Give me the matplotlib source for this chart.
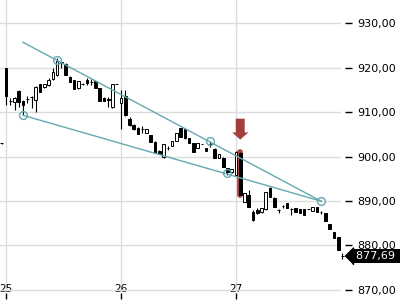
import matplotlib.pyplot as plt
import matplotlib.transforms as mtransforms
from matplotlib.ticker import FuncFormatter

# hourly bars, index 0 = first bar of day 25 (27 bars per day)
opens = [903.0,
         919.89, 912.5, 912.3, 914.72, 912.47, 912.9, 913.3, 912.7, 916.2, 915.6,
         916.05, 917.4, 918.3, 921.2, 920.7, 917.9, 917.2, 915.3, 916.3, 917.1,
         916.85, 917.0, 915.3, 913.2, 913.0, 911.05, 916.25, 912.1, 913.6, 908.4,
         907.1, 906.5, 906.1, 905.35, 904.8, 903.3, 901.3, 899.8, 902.0, 902.35,
         903.5, 906.3, 906.1, 904.15, 903.0, 901.9, 902.8, 901.9, 902.8, 901.7,
         899.7, 899.66, 897.4, 896.5, 895.85, 900.8, 889.8, 891.35, 887.6, 888.0,
         887.5, 888.2, 893.0, 890.7, 888.0, 888.85, 889.5, 888.2, 888.4, 888.2,
         888.2, 888.2, 887.75, 888.65, 887.55, 887.3, 884.8, 883.0, 881.9, 877.7]
highs = [903.1,
         919.89, 913.15, 913.4, 914.9, 912.6, 913.5, 913.7, 915.9, 916.3, 916.3,
         917.7, 919.8, 922.1, 921.4, 920.9, 918.0, 917.3, 917.0, 916.5, 917.6,
         917.35, 917.1, 915.4, 913.3, 913.4, 916.4, 916.3, 914.9, 914.9, 908.8,
         907.3, 906.6, 906.85, 906.2, 904.9, 903.4, 901.35, 902.9, 902.25, 903.5,
         905.3, 906.4, 906.2, 904.2, 903.1, 903.1, 902.9, 902.0, 903.5, 901.8,
         900.6, 899.8, 897.5, 897.2, 901.2, 900.9, 891.8, 892.5, 888.0, 888.4,
         888.5, 892.1, 893.2, 890.8, 888.1, 889.1, 889.6, 888.45, 888.5, 888.3,
         888.3, 888.3, 888.7, 888.7, 887.8, 887.4, 884.9, 883.1, 882.0, 878.3]
lows = [902.9,
        911.57, 911.57, 910.45, 911.2, 909.4, 912.0, 910.8, 909.9, 914.4, 915.5,
        915.9, 917.2, 918.2, 920.0, 918.3, 916.8, 915.1, 915.2, 916.1, 916.1,
        916.1, 915.3, 912.5, 912.4, 911.2, 911.0, 916.2, 906.1, 909.2, 906.9,
        905.9, 905.0, 905.35, 905.3, 903.2, 900.8, 900.5, 899.7, 901.5, 902.3,
        903.4, 904.3, 904.0, 903.0, 901.0, 901.8, 902.7, 901.2, 902.1, 899.6,
        899.6, 897.6, 895.9, 896.4, 895.6, 891.3, 889.7, 888.6, 885.5, 887.0,
        887.4, 888.0, 890.9, 888.6, 887.3, 888.4, 888.4, 886.85, 887.5, 887.3,
        886.8, 888.1, 887.7, 887.5, 887.1, 885.5, 883.7, 881.7, 879.0, 877.0]
closes = [903.0,
          913.6, 912.4, 913.1, 912.2, 911.6, 912.95, 913.4, 915.55, 914.45, 916.2,
          917.2, 919.05, 921.5, 921.1, 918.3, 916.8, 915.1, 916.97, 916.25, 916.45,
          916.75, 915.35, 912.55, 912.5, 912.7, 916.3, 916.25, 913.1, 909.3, 907.1,
          906.1, 905.1, 906.2, 906.1, 903.2, 900.85, 900.55, 902.8, 902.0, 903.45,
          905.35, 904.3, 904.1, 903.05, 901.0, 903.0, 902.8, 901.25, 902.85, 899.65,
          900.55, 897.65, 896.5, 897.2, 901.0, 891.35, 891.8, 888.65, 885.7, 887.3,
          888.4, 892.0, 891.0, 888.65, 887.95, 888.9, 888.45, 888.15, 887.55, 887.3,
          886.9, 888.2, 888.65, 887.55, 887.5, 885.5, 883.7, 881.7, 879.0, 877.69]
first_bar = -1

day_labels = ['25', '26', '27']
day_start_bars = [0, 27, 54]

# wedge drawn on the chart: (bar, price)
upper_line = [(4, 925.66), (74, 889.96)]
lower_line = [(4, 909.26), (74, 889.96)]
pivot_bars = [4, 12, 48, 52, 74]
pivot_prices = [909.26, 921.6, 903.4, 896.2, 889.96]

signal_bar = 55
last_price = 877.69

teal = '#64a9b0'
signal_red = '#a13f3b'

fig = plt.figure(figsize=(4, 3), dpi=100)
ax = fig.add_axes([0, 8 / 300, 341 / 400, 292 / 300])

bars = list(range(first_bar, first_bar + len(closes)))

# candles
for b, o, h, l, c in zip(bars, opens, highs, lows, closes):
    ax.vlines(b, l, h, color='black', lw=0.8, zorder=3, clip_on=False)
    body_color = 'white' if c > o else 'black'
    ax.bar(b, c - o, bottom=o, width=0.62, color=body_color, edgecolor='black',
           linewidth=0.7, zorder=4, clip_on=False)

# signal highlight and arrow
sig = signal_bar - first_bar
ax.plot([signal_bar, signal_bar], [lows[sig], highs[sig]], color=signal_red,
        lw=4.2, solid_capstyle='round', zorder=2, alpha=0.95)
ax.arrow(signal_bar, highs[sig] + 7.6, 0, -4.7, width=2.1, head_width=3.8,
         head_length=1.6, length_includes_head=True, fc=signal_red, ec='none', zorder=5)

# wedge lines
ax.plot(*zip(*upper_line), color=teal, lw=1, zorder=5)
ax.plot(*zip(*lower_line), color=teal, lw=1, zorder=5)
ax.plot(pivot_bars, pivot_prices, 'o', mfc='none', mec=teal, ms=5.6, mew=1, zorder=6)

ax.set_xlim(-1.41, 78.66)
ax.set_ylim(869.55, 935.17)
ax.set_xticks(day_start_bars)
ax.set_xticklabels(day_labels)
ax.set_yticks([870, 880, 890, 900, 910, 920, 930])
ax.yaxis.set_major_formatter(FuncFormatter(lambda v, p: f"{v:.2f}".replace('.', ',')))
ax.yaxis.tick_right()

ax.grid(True, color='#dcdcdc', lw=1)
ax.set_axisbelow(True)
for s in ax.spines.values():
    s.set_visible(False)
ax.spines['right'].set_position(('outward', 3))
ax.spines['bottom'].set_position(('outward', 1))
ax.tick_params(axis='y', length=5, width=1, pad=4, labelsize=8)
ax.tick_params(axis='x', length=4, width=1, pad=-11, labelsize=7.5)

# last price tag
blend = mtransforms.blended_transform_factory(ax.transAxes, ax.transData)
tag_trans = mtransforms.offset_copy(blend, fig=fig, x=12, y=0, units='dots')
ax.plot([1], [last_price], marker=[(-1, 0), (0, 1), (0, -1)], ms=12.2, color='black',
        transform=tag_trans, clip_on=False, zorder=10)
ax.annotate(f"{last_price:.2f}".replace('.', ',') + ' ', xy=(1, last_price),
            xycoords=blend, xytext=(10.8, 0), textcoords='offset points',
            ha='left', va='center', color='white', fontsize=8, zorder=10,
            annotation_clip=False,
            bbox=dict(boxstyle='square,pad=0.2', fc='black', ec='none'))

fig.savefig('out.png', dpi=100)
